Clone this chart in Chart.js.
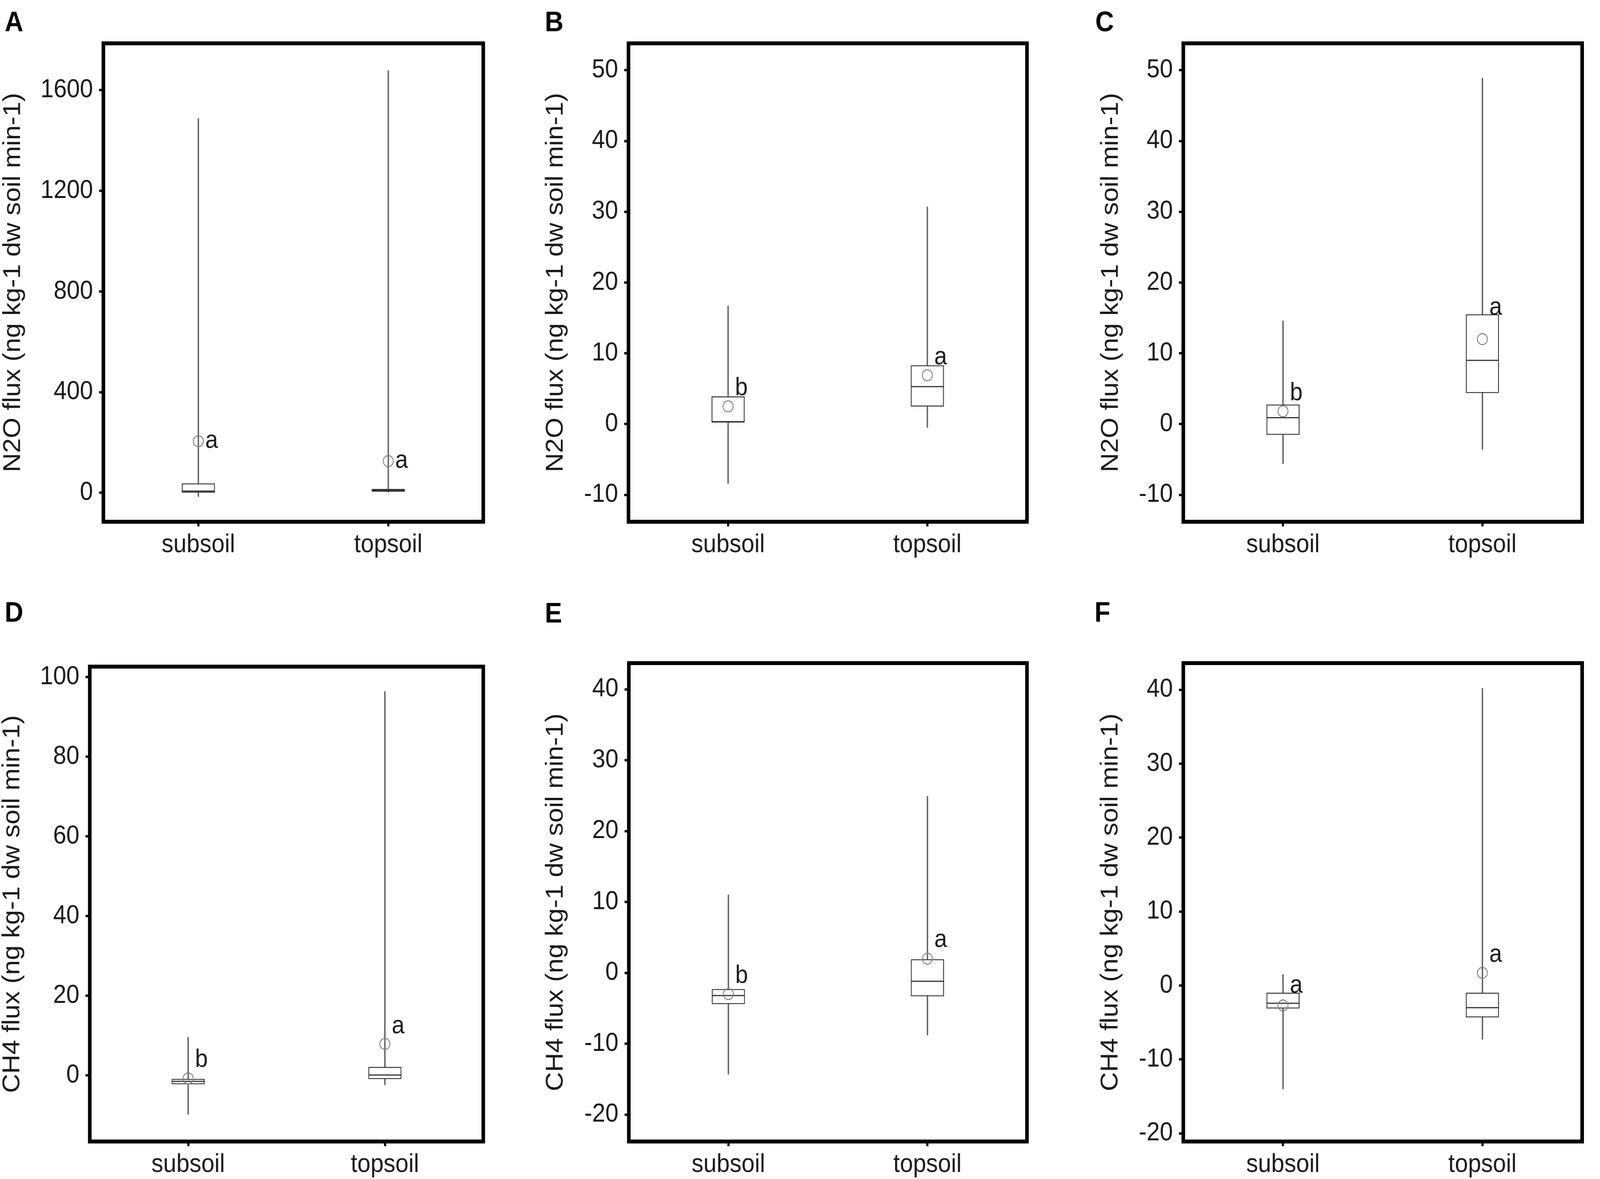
<!DOCTYPE html>
<html>
<head>
<meta charset="utf-8">
<script src="https://cdn.jsdelivr.net/npm/chart.js@4.4.1/dist/chart.umd.min.js"></script>
<style>
	html, body { margin: 0; padding: 0; background: #fff; overflow: hidden; }
	#frame { position: relative; overflow: hidden; background: #fff; }
	#page { position: absolute; left: 0; top: 0; width: 4473px; height: 3019px; transform-origin: 0 0; background: #fff; }
	.panel { position: absolute; }
	.letter { position: absolute; font: bold 72px "Liberation Sans", Arial, sans-serif; line-height: 1; color: #000; }
</style>
</head>
<body>
<div id="frame"><div id="page"></div></div>
<script>
const categories = ["subsoil", "topsoil"];

const n2oTitle = "N2O flux (ng kg-1 dw soil min-1)";
const ch4Title = "CH4 flux (ng kg-1 dw soil min-1)";

// A: N2O
const aMin = [-15, 2];
const aQ1 = [0, 5];
const aMedian = [7, 10];
const aQ3 = [37, 15];
const aMax = [1488, 1678];
const aMean = [205, 126];
const aLetters = ["a", "a"];
const aLetterY = [205, 126];
const aRange = [-115, 1786];
const aTicks = [0, 400, 800, 1200, 1600];

// B: N2O
const bMin = [-8.4, -0.5];
const bQ1 = [0.3, 2.5];
const bMedian = [0.3, 5.3];
const bQ3 = [3.9, 8.3];
const bMax = [16.7, 30.7];
const bMean = [2.5, 6.9];
const bLetters = ["b", "a"];
const bLetterY = [5.0, 9.4];
const bRange = [-13.8, 53.8];
const bTicks = [-10, 0, 10, 20, 30, 40, 50];

// C: N2O
const cMin = [-5.6, -3.6];
const cQ1 = [-1.5, 4.4];
const cMedian = [0.9, 9.0];
const cQ3 = [2.75, 15.5];
const cMax = [14.6, 48.9];
const cMean = [1.8, 12.0];
const cLetters = ["b", "a"];
const cLetterY = [4.3, 16.4];
const cRange = [-13.8, 53.8];
const cTicks = [-10, 0, 10, 20, 30, 40, 50];

// D: CH4
const dMin = [-9.8, -2.4];
const dQ1 = [-2.2, -0.9];
const dMedian = [-1.5, 0.1];
const dQ3 = [-0.9, 2.1];
const dMax = [9.6, 96.4];
const dMean = [-0.75, 7.9];
const dLetters = ["b", "a"];
const dLetterY = [3.75, 12.2];
const dRange = [-16.6, 102.6];
const dTicks = [0, 20, 40, 60, 80, 100];

// E: CH4
const eMin = [-14.3, -8.8];
const eQ1 = [-4.4, -3.3];
const eMedian = [-3.2, -1.2];
const eQ3 = [-2.3, 1.9];
const eMax = [11.0, 24.9];
const eMean = [-3.0, 2.0];
const eLetters = ["b", "a"];
const eLetterY = [-0.5, 4.6];
const eRange = [-23.8, 43.7];
const eTicks = [-20, -10, 0, 10, 20, 30, 40];

// F: CH4
const fMin = [-14.0, -7.3];
const fQ1 = [-3.1, -4.3];
const fMedian = [-2.4, -3.0];
const fQ3 = [-1.0, -1.0];
const fMax = [1.5, 40.2];
const fMean = [-2.7, 1.7];
const fLetters = ["a", "a"];
const fLetterY = [-0.1, 4.1];
const fRange = [-21.1, 43.6];
const fTicks = [-20, -10, 0, 10, 20, 30, 40];

const FONT = '"Liberation Sans", Arial, sans-serif';
const FONT_SIZE = 66;
const TITLE_SIZE = 68;
const TEXT = "#1a1a1a";

// plot area [left, top, right, bottom], centre of y title, letter position
const panels = [
	{ id: "A", plot: [289, 111, 1394, 1336], titleX: 37, letter: [13, 29], title: n2oTitle,
		min: aMin, q1: aQ1, median: aMedian, q3: aQ3, max: aMax, mean: aMean, letters: aLetters, letterY: aLetterY, range: aRange, ticks: aTicks },
	{ id: "B", plot: [1757, 111, 2914, 1336], titleX: 1554, letter: [1523, 29], title: n2oTitle,
		min: bMin, q1: bQ1, median: bMedian, q3: bQ3, max: bMax, mean: bMean, letters: bLetters, letterY: bLetterY, range: bRange, ticks: bTicks },
	{ id: "C", plot: [3308, 111, 4466, 1336], titleX: 3106, letter: [3062, 29], title: n2oTitle,
		min: cMin, q1: cQ1, median: cMedian, q3: cQ3, max: cMax, mean: cMean, letters: cLetters, letterY: cLetterY, range: cRange, ticks: cTicks },
	{ id: "D", plot: [251, 1707, 1394, 2923], titleX: 35, letter: [13, 1541], title: ch4Title,
		min: dMin, q1: dQ1, median: dMedian, q3: dQ3, max: dMax, mean: dMean, letters: dLetters, letterY: dLetterY, range: dRange, ticks: dTicks },
	{ id: "E", plot: [1758, 1698, 2914, 2923], titleX: 1554, letter: [1523, 1543], title: ch4Title,
		min: eMin, q1: eQ1, median: eMedian, q3: eQ3, max: eMax, mean: eMean, letters: eLetters, letterY: eLetterY, range: eRange, ticks: eTicks },
	{ id: "F", plot: [3308, 1698, 4466, 2923], titleX: 3105, letter: [3060, 1541], title: ch4Title,
		min: fMin, q1: fQ1, median: fMedian, q3: fQ3, max: fMax, mean: fMean, letters: fLetters, letterY: fLetterY, range: fRange, ticks: fTicks },
];

// the layout is in picture pixels; stretch it over the viewport the browser
// really has, and keep the document no bigger than that viewport
const W = 4473, H = 3019;
const vw = window.innerWidth, vh = window.innerHeight;
const frame = document.getElementById("frame");
frame.style.width = vw + "px";
frame.style.height = vh + "px";
const page = document.getElementById("page");
page.style.transform = `scale(${vw / W}, ${vh / H})`;

// black frame round the plot area
const framePlugin = {
	id: "frame",
	afterDraw(chart) {
		const { ctx, chartArea: { left, top, right, bottom } } = chart;
		ctx.save();
		ctx.strokeStyle = "#000";
		ctx.lineWidth = 10;
		ctx.strokeRect(left, top, right - left, bottom - top);
		ctx.restore();
	},
};

// significance letters next to each box
const lettersPlugin = {
	id: "letters",
	afterDatasetsDraw(chart, args, opts) {
		const { ctx, scales: { x, y } } = chart;
		ctx.save();
		ctx.font = `64px ${FONT}`;
		ctx.fillStyle = TEXT;
		ctx.textAlign = "center";
		ctx.textBaseline = "alphabetic";
		opts.letters.forEach((t, i) => {
			ctx.fillText(t, x.getPixelForValue(i) + 37, y.getPixelForValue(opts.y[i]) + 17);
		});
		ctx.restore();
	},
};

// top padding bigger than the y-axis label overhang, so the layout keeps it
const TOP_PAD = 70;
const RIGHT_PAD = 6;
const X_AXIS_H = 140;

panels.forEach((p) => {
	const [pl, pt, pr, pb] = p.plot;
	const canvasLeft = Math.round(p.titleX - TITLE_SIZE * 1.2 / 2);
	const yWidth = pl - canvasLeft;
	const width = pr + RIGHT_PAD - canvasLeft;
	const height = TOP_PAD + (pb - pt) + X_AXIS_H;

	const div = document.createElement("div");
	div.className = "panel";
	div.style.left = canvasLeft + "px";
	div.style.top = (pt - TOP_PAD) + "px";
	const canvas = document.createElement("canvas");
	canvas.width = width;
	canvas.height = height;
	canvas.style.width = width + "px";
	canvas.style.height = height + "px";
	div.appendChild(canvas);
	page.appendChild(div);

	const letter = document.createElement("div");
	letter.className = "letter";
	letter.textContent = p.id;
	letter.style.left = p.letter[0] + "px";
	letter.style.top = (p.letter[1] - 10) + "px";
	page.appendChild(letter);

	const tickGrid = {
		display: true,
		offset: false,
		drawOnChartArea: false,
		drawTicks: true,
		tickLength: 12,
		tickWidth: 6,
		tickColor: "#000",
	};

	new Chart(canvas, {
		type: "bar",
		data: {
			labels: categories,
			datasets: [
				{
					label: "range",
					data: categories.map((c, i) => [p.min[i], p.max[i]]),
					backgroundColor: "#555",
					barThickness: 3,
					grouped: false,
					order: 4,
				},
				{
					label: "box",
					data: categories.map((c, i) => [p.q1[i], p.q3[i]]),
					backgroundColor: "#fff",
					borderColor: "#333",
					borderWidth: 2.5,
					borderSkipped: false,
					barThickness: 92,
					grouped: false,
					order: 3,
				},
				{
					type: "line",
					label: "median",
					data: p.median,
					showLine: false,
					pointStyle: "line",
					pointRadius: 46,
					pointBorderWidth: 3,
					pointBorderColor: "#333",
					order: 2,
				},
				{
					type: "line",
					label: "mean",
					data: p.mean,
					showLine: false,
					pointStyle: "circle",
					pointRadius: 14,
					pointBorderWidth: 2.5,
					pointBorderColor: "#808080",
					pointBackgroundColor: "rgba(0,0,0,0)",
					order: 1,
				},
			],
		},
		options: {
			responsive: false,
			animation: false,
			layout: { padding: { top: TOP_PAD, right: RIGHT_PAD, left: 0, bottom: 0 } },
			plugins: {
				legend: { display: false },
				tooltip: { enabled: false },
				letters: { letters: p.letters, y: p.letterY },
			},
			scales: {
				x: {
					offset: true,
					grid: tickGrid,
					border: { display: false },
					ticks: { font: { family: FONT, size: FONT_SIZE }, color: TEXT, padding: 8, maxRotation: 0 },
					afterFit(s) {
						s.height = X_AXIS_H;
						s.paddingLeft = 0;
						s.paddingRight = 0;
					},
				},
				y: {
					min: p.range[0],
					max: p.range[1],
					afterBuildTicks(s) {
						s.ticks = p.ticks.map((v) => ({ value: v }));
					},
					grid: tickGrid,
					border: { display: false },
					ticks: {
						font: { family: FONT, size: FONT_SIZE },
						color: TEXT,
						padding: 17,
						callback: (v) => String(v),
					},
					title: {
						display: true,
						text: p.title,
						font: { family: FONT, size: TITLE_SIZE },
						color: TEXT,
						padding: 0,
					},
					afterFit(s) {
						s.width = yWidth;
						s.paddingTop = 0;
						s.paddingBottom = 0;
					},
				},
			},
		},
		plugins: [framePlugin, lettersPlugin],
	});
});
</script>
</body>
</html>
